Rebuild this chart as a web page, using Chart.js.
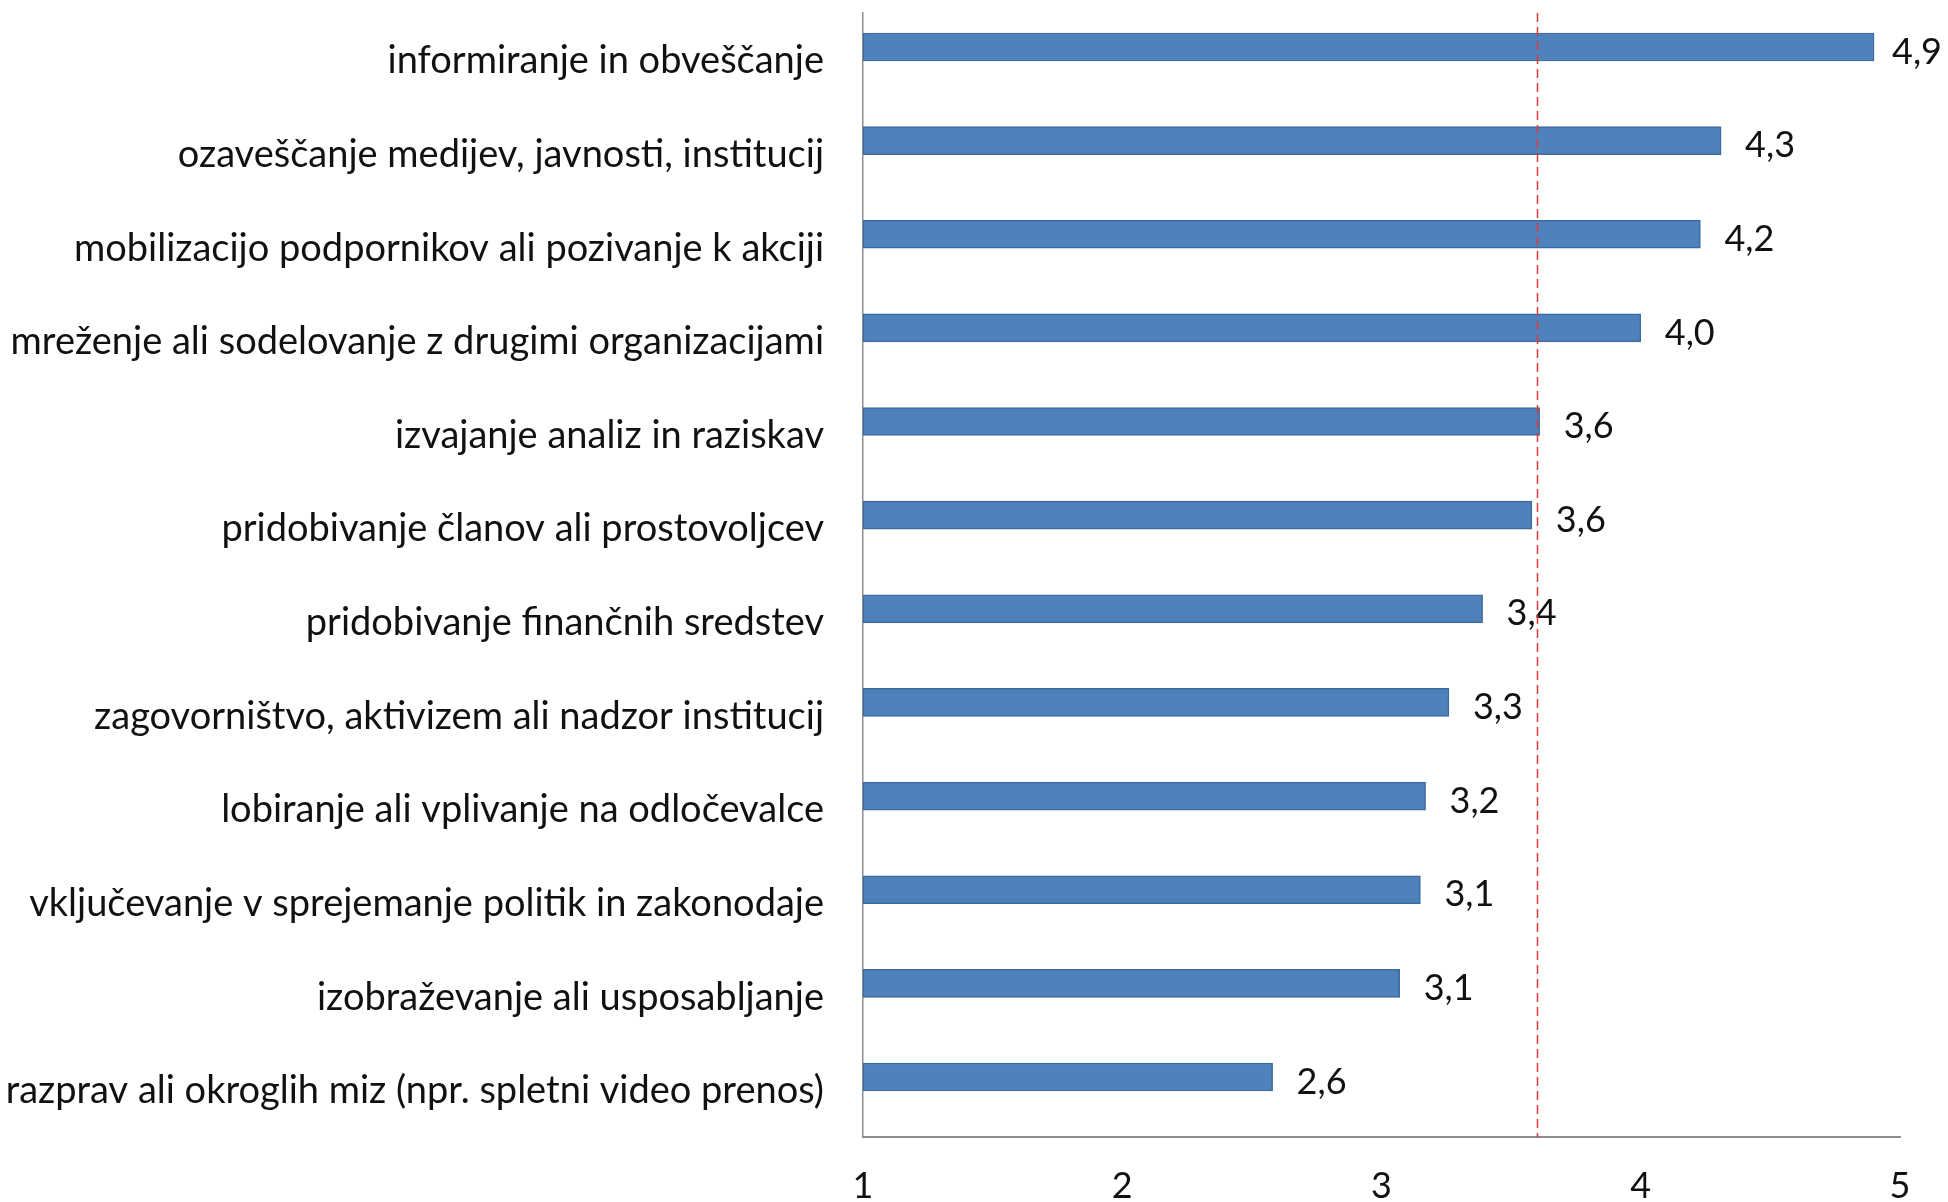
<!DOCTYPE html>
<html>
<head>
<meta charset="utf-8">
<script src="https://cdn.jsdelivr.net/npm/chart.js@4/dist/chart.umd.min.js"></script>
<style>
  html, body { margin: 0; padding: 0; background: #fff; }
  #wrap { width: 1948px; height: 1202px; position: relative; }
</style>
</head>
<body>
<div id="wrap"><canvas id="c" width="1948" height="1202"></canvas></div>
<script>
const categories = [
  "informiranje in obveščanje",
  "ozaveščanje medijev, javnosti, institucij",
  "mobilizacijo podpornikov ali pozivanje k akciji",
  "mreženje ali sodelovanje z drugimi organizacijami",
  "izvajanje analiz in raziskav",
  "pridobivanje članov ali prostovoljcev",
  "pridobivanje finančnih sredstev",
  "zagovorništvo, aktivizem ali nadzor institucij",
  "lobiranje ali vplivanje na odločevalce",
  "vključevanje v sprejemanje politik in zakonodaje",
  "izobraževanje ali usposabljanje",
  "razprav ali okroglih miz (npr. spletni video prenos)"
];
const values = [4.90, 4.31, 4.23, 4.00, 3.61, 3.58, 3.39, 3.26, 3.17, 3.15, 3.07, 2.58];
const valueLabels = ["4,9", "4,3", "4,2", "4,0", "3,6", "3,6", "3,4", "3,3", "3,2", "3,1", "3,1", "2,6"];
const xTicks = [1, 2, 3, 4, 5];
const averageValue = 3.60;

const FONT = "Lato";
const TEXT = "#111111";

const valueLabelPlugin = {
  id: "valueLabels",
  afterDatasetsDraw(chart) {
    const ctx = chart.ctx;
    const meta = chart.getDatasetMeta(0);
    ctx.save();
    ctx.font = "36px " + FONT;
    ctx.fillStyle = TEXT;
    ctx.textAlign = "left";
    ctx.textBaseline = "middle";
    meta.data.forEach((bar, i) => {
      const w = ctx.measureText(valueLabels[i]).width;
      const x = Math.min(bar.x + 24, chart.width - w - 6);
      ctx.fillText(valueLabels[i], x, bar.y + 5);
    });
    ctx.restore();
  }
};

const avgLinePlugin = {
  id: "avgLine",
  afterDatasetsDraw(chart) {
    const ctx = chart.ctx;
    const xs = chart.scales.x;
    const area = chart.chartArea;
    const px = Math.round(xs.getPixelForValue(averageValue)) + 0.5;
    ctx.save();
    ctx.strokeStyle = "#DA3B3B";
    ctx.lineWidth = 1.5;
    ctx.setLineDash([9, 5]);
    ctx.beginPath();
    ctx.moveTo(px, area.top);
    ctx.lineTo(px, area.bottom);
    ctx.stroke();
    ctx.restore();
  }
};

new Chart(document.getElementById("c"), {
  type: "bar",
  data: {
    datasets: [{
      data: values.map((v, i) => ({ x: v, y: i })),
      base: xTicks[0],
      backgroundColor: "#4F81BD",
      borderColor: "#3F6A9E",
      borderWidth: 1.5,
      borderSkipped: false,
      barThickness: 28
    }]
  },
  options: {
    indexAxis: "y",
    responsive: false,
    animation: false,
    devicePixelRatio: 1,
    layout: { padding: { top: 13, right: 48, left: 0, bottom: 0 } },
    plugins: {
      legend: { display: false },
      tooltip: { enabled: false },
      title: { display: false }
    },
    scales: {
      x: {
        type: "linear",
        position: "bottom",
        min: xTicks[0],
        max: xTicks[xTicks.length - 1],
        afterBuildTicks(scale) { scale.ticks = xTicks.map(v => ({ value: v })); },
        afterFit(scale) {
          scale.height = 65;
          scale.paddingLeft = 0; scale.paddingRight = 0;
        },
        grid: { display: false, drawTicks: false },
        border: { display: true, color: "#8E8E8E", width: 2 },
        ticks: {
          padding: 28,
          color: TEXT,
          font: { family: FONT, size: 36 },
          callback: v => String(v)
        }
      },
      y: {
        type: "linear",
        reverse: true,
        offset: false,
        min: -0.363,
        max: 11.641,
        afterBuildTicks(scale) { scale.ticks = categories.map((_, i) => ({ value: i })); },
        afterFit(scale) {
          scale.width = 863;
          scale.paddingTop = 0; scale.paddingBottom = 0;
        },
        grid: { display: false, drawTicks: false, offset: false },
        border: { display: true, color: "#8E8E8E", width: 1.5 },
        ticks: {
          padding: 39,
          labelOffset: 14,
          color: TEXT,
          font: { family: FONT, size: 38 },
          callback: v => categories[v] !== undefined ? categories[v] : ""
        }
      }
    }
  },
  plugins: [valueLabelPlugin, avgLinePlugin]
});
</script>
</body>
</html>
